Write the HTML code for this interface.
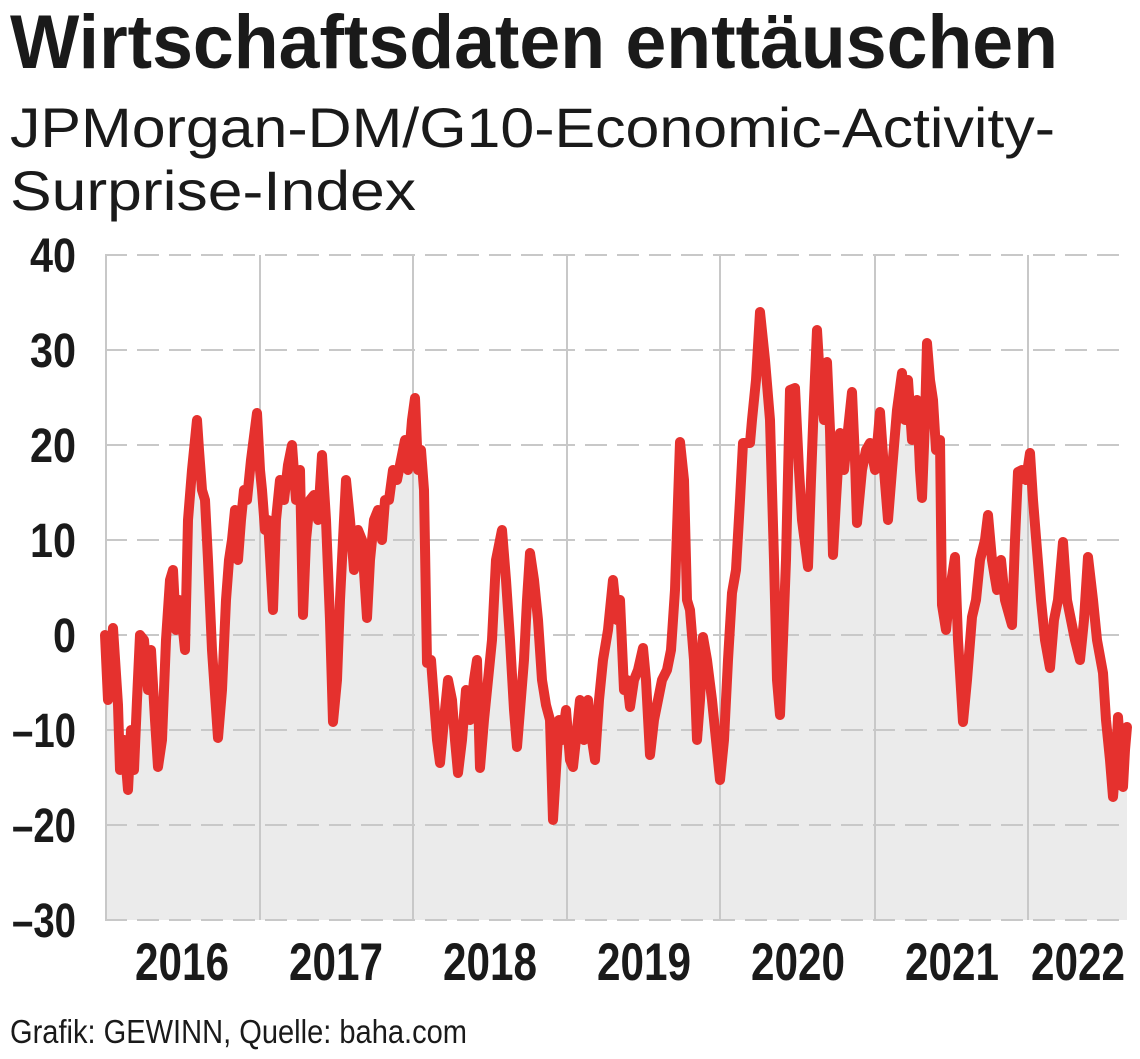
<!DOCTYPE html>
<html><head><meta charset="utf-8"><style>
html,body{margin:0;padding:0;background:#fff;width:1140px;height:1059px;overflow:hidden}
svg{display:block}
text{font-family:"Liberation Sans Narrow","Liberation Sans",sans-serif;fill:#1a1a1a}
.b{font-weight:bold}
</style></head><body>
<svg width="1140" height="1059" viewBox="0 0 1140 1059">
<text class="b" x="10" y="68" font-size="76" textLength="1048" lengthAdjust="spacingAndGlyphs">Wirtschaftsdaten enttäuschen</text>
<text x="10" y="147" font-size="56" textLength="1045" lengthAdjust="spacingAndGlyphs">JPMorgan-DM/G10-Economic-Activity-</text>
<text x="10" y="210" font-size="56" textLength="406" lengthAdjust="spacingAndGlyphs">Surprise-Index</text>

<polygon fill="#ebebeb" points="105,920 105,635 108,700 113,628 118,705 120,770 124,740 128,790 131,730 134,770 137,700 140,635 144,640 148,690 151,650 155,720 158,767 162,740 166,640 170,580 173,570 176,630 179,600 182,620 185,650 188,520 192,470 197,420 199,450 202,490 205,500 208,560 212,650 218,738 222,690 226,600 229,560 232,540 235,510 238,560 241,520 244,490 247,500 251,460 257,413 260,470 262,490 265,530 268,520 273,610 276,520 280,480 284,500 288,465 292,445 296,500 300,470 303,615 306,540 310,500 314,495 318,520 322,455 326,520 330,620 333,722 337,680 340,600 344,520 346,480 350,520 354,570 358,530 362,540 367,618 370,560 374,520 378,510 382,540 385,500 389,500 393,470 397,480 401,460 405,440 408,470 412,420 415,398 418,470 421,450 424,490 427,663 431,660 434,700 437,740 440,763 444,720 448,680 452,700 455,740 458,773 462,740 466,690 470,720 474,680 477,660 480,768 484,720 488,680 492,640 496,560 502,530 506,580 510,640 514,710 517,747 520,710 524,660 527,600 530,553 534,580 538,620 542,680 546,705 550,720 553,820 556,770 559,720 562,740 566,710 570,760 573,767 577,730 580,700 584,740 588,700 592,740 595,760 599,700 603,660 608,630 613,580 617,620 620,600 624,690 627,680 630,707 634,680 638,670 643,648 646,680 650,755 654,720 658,700 662,680 667,670 671,650 675,590 680,442 684,480 687,600 690,610 694,660 697,740 700,700 703,637 707,660 712,700 716,740 720,780 724,740 728,660 732,593 736,570 740,500 743,443 750,443 752,420 756,380 760,312 765,360 770,420 774,560 777,680 780,715 783,640 786,560 790,390 795,388 799,470 802,520 808,567 811,480 814,400 817,330 820,380 824,420 827,362 830,430 833,555 836,500 840,433 844,470 848,430 852,392 855,460 857,523 862,470 866,450 870,443 875,470 880,412 884,470 888,520 892,470 897,410 902,373 905,420 908,380 912,440 917,400 920,470 922,498 925,420 927,343 930,380 933,400 936,450 940,440 942,605 946,630 950,590 955,557 958,640 963,722 967,680 972,617 976,600 980,560 985,540 988,515 992,560 997,590 1001,560 1005,600 1012,625 1015,540 1018,472 1022,470 1026,480 1030,453 1033,500 1037,550 1041,600 1045,640 1050,668 1054,620 1058,600 1063,542 1067,600 1071,620 1075,640 1080,660 1084,620 1088,557 1093,600 1097,640 1103,673 1106,720 1110,760 1113,797 1116,760 1118,717 1121,760 1123,787 1125,750 1127,727 1127,920"/>

<g stroke="#c8c8c8" stroke-width="2" fill="none">
<path d="M105,255H1128M105,350H1128M105,445H1128M105,540H1128M105,635H1128M105,730H1128M105,825H1128M105,920H1128" stroke-dasharray="22,10"/>
<path d="M106,255V920M260,255V920M413,255V920M567,255V920M720,255V920M875,255V920M1028,255V920"/>
</g>

<polyline fill="none" stroke="#e5312e" stroke-width="10" stroke-linejoin="round" stroke-linecap="round" points="105,635 108,700 113,628 118,705 120,770 124,740 128,790 131,730 134,770 137,700 140,635 144,640 148,690 151,650 155,720 158,767 162,740 166,640 170,580 173,570 176,630 179,600 182,620 185,650 188,520 192,470 197,420 199,450 202,490 205,500 208,560 212,650 218,738 222,690 226,600 229,560 232,540 235,510 238,560 241,520 244,490 247,500 251,460 257,413 260,470 262,490 265,530 268,520 273,610 276,520 280,480 284,500 288,465 292,445 296,500 300,470 303,615 306,540 310,500 314,495 318,520 322,455 326,520 330,620 333,722 337,680 340,600 344,520 346,480 350,520 354,570 358,530 362,540 367,618 370,560 374,520 378,510 382,540 385,500 389,500 393,470 397,480 401,460 405,440 408,470 412,420 415,398 418,470 421,450 424,490 427,663 431,660 434,700 437,740 440,763 444,720 448,680 452,700 455,740 458,773 462,740 466,690 470,720 474,680 477,660 480,768 484,720 488,680 492,640 496,560 502,530 506,580 510,640 514,710 517,747 520,710 524,660 527,600 530,553 534,580 538,620 542,680 546,705 550,720 553,820 556,770 559,720 562,740 566,710 570,760 573,767 577,730 580,700 584,740 588,700 592,740 595,760 599,700 603,660 608,630 613,580 617,620 620,600 624,690 627,680 630,707 634,680 638,670 643,648 646,680 650,755 654,720 658,700 662,680 667,670 671,650 675,590 680,442 684,480 687,600 690,610 694,660 697,740 700,700 703,637 707,660 712,700 716,740 720,780 724,740 728,660 732,593 736,570 740,500 743,443 750,443 752,420 756,380 760,312 765,360 770,420 774,560 777,680 780,715 783,640 786,560 790,390 795,388 799,470 802,520 808,567 811,480 814,400 817,330 820,380 824,420 827,362 830,430 833,555 836,500 840,433 844,470 848,430 852,392 855,460 857,523 862,470 866,450 870,443 875,470 880,412 884,470 888,520 892,470 897,410 902,373 905,420 908,380 912,440 917,400 920,470 922,498 925,420 927,343 930,380 933,400 936,450 940,440 942,605 946,630 950,590 955,557 958,640 963,722 967,680 972,617 976,600 980,560 985,540 988,515 992,560 997,590 1001,560 1005,600 1012,625 1015,540 1018,472 1022,470 1026,480 1030,453 1033,500 1037,550 1041,600 1045,640 1050,668 1054,620 1058,600 1063,542 1067,600 1071,620 1075,640 1080,660 1084,620 1088,557 1093,600 1097,640 1103,673 1106,720 1110,760 1113,797 1116,760 1118,717 1121,760 1123,787 1125,750 1127,727"/>

<g class="b" font-size="48" text-anchor="end">
<text x="76" y="272" textLength="46" lengthAdjust="spacingAndGlyphs">40</text>
<text x="76" y="367" textLength="46" lengthAdjust="spacingAndGlyphs">30</text>
<text x="76" y="462" textLength="46" lengthAdjust="spacingAndGlyphs">20</text>
<text x="76" y="557" textLength="46" lengthAdjust="spacingAndGlyphs">10</text>
<text x="76" y="652" textLength="23" lengthAdjust="spacingAndGlyphs">0</text>
<text x="76" y="747" textLength="64" lengthAdjust="spacingAndGlyphs">–10</text>
<text x="76" y="842" textLength="64" lengthAdjust="spacingAndGlyphs">–20</text>
<text x="76" y="937" textLength="64" lengthAdjust="spacingAndGlyphs">–30</text>
</g>
<g class="b" font-size="53" text-anchor="middle">
<text x="182" y="980" textLength="94" lengthAdjust="spacingAndGlyphs">2016</text>
<text x="336" y="980" textLength="94" lengthAdjust="spacingAndGlyphs">2017</text>
<text x="490" y="980" textLength="94" lengthAdjust="spacingAndGlyphs">2018</text>
<text x="644" y="980" textLength="94" lengthAdjust="spacingAndGlyphs">2019</text>
<text x="798" y="980" textLength="94" lengthAdjust="spacingAndGlyphs">2020</text>
<text x="952" y="980" textLength="94" lengthAdjust="spacingAndGlyphs">2021</text>
<text x="1078" y="980" textLength="94" lengthAdjust="spacingAndGlyphs">2022</text>
</g>
<text x="10" y="1043" font-size="33" textLength="457" lengthAdjust="spacingAndGlyphs">Grafik: GEWINN, Quelle: baha.com</text>
</svg>
</body></html>
